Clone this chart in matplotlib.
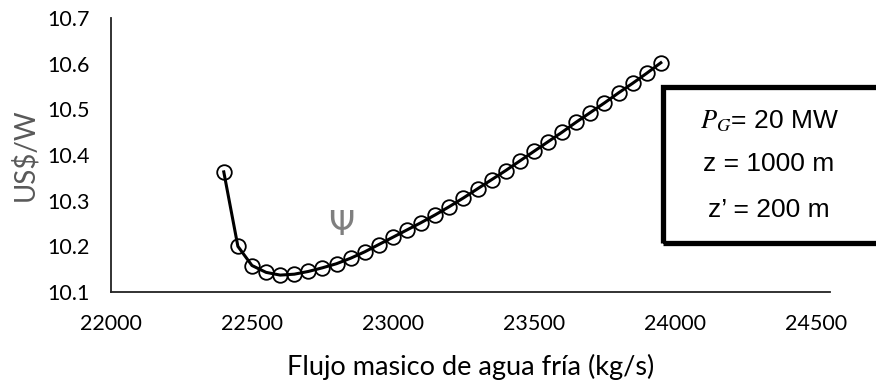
import numpy as np
from matplotlib import pyplot as plt
from matplotlib.patches import Rectangle

# flujo masico (kg/s) vs costo (US$/W)
flujo = [22400, 22450, 22500, 22550, 22600, 22650, 22700, 22750, 22800, 22850,
         22900, 22950, 23000, 23050, 23100, 23150, 23200, 23250, 23300, 23350,
         23400, 23450, 23500, 23550, 23600, 23650, 23700, 23750, 23800, 23850,
         23900, 23950]
costo = [10.363, 10.200, 10.158, 10.143, 10.137, 10.139, 10.145, 10.153, 10.162, 10.174,
         10.188, 10.204, 10.220, 10.236, 10.252, 10.269, 10.287, 10.306, 10.326, 10.346,
         10.366, 10.387, 10.408, 10.429, 10.450, 10.472, 10.493, 10.514, 10.536, 10.557,
         10.579, 10.602]
xticks = [22000, 22500, 23000, 23500, 24000, 24500]
yticks = [10.1, 10.2, 10.3, 10.4, 10.5, 10.6, 10.7]
box_lines = ["$P_G$= 20 MW", "z = 1000 m", "z’ = 200 m"]

plt.rcParams['font.family'] = ['Lato', 'DejaVu Sans']
plt.rcParams['mathtext.fontset'] = 'stix'

fig = plt.figure(figsize=(8.76, 3.81), dpi=100)
ax = fig.add_axes([0.1267, 0.2336, 0.8208, 0.7192])

ax.plot(flujo, costo, color='black', linewidth=2.2, marker='o', markersize=10.5,
        markerfacecolor='none', markeredgecolor='black', markeredgewidth=1.3, clip_on=False)

ax.set_xlim(22000, 24550)
ax.set_ylim(10.1, 10.7)
ax.set_xticks(xticks)
ax.set_yticks(yticks)
ax.set_yticklabels(["{:.1f}".format(v) for v in yticks])
ax.tick_params(length=0, labelsize=15.5, colors='black')
ax.tick_params(axis='y', pad=15)
ax.tick_params(axis='x', pad=16)

for s in ['top', 'right']:
    ax.spines[s].set_visible(False)
for s in ['left', 'bottom']:
    ax.spines[s].set_linewidth(1.3)
    ax.spines[s].set_color('#222222')

ax.set_xlabel("Flujo masico de agua fría (kg/s)", fontsize=19.5, labelpad=14)
ax.set_ylabel("US$/W", fontsize=20, color='#595959', labelpad=7)

ax.text(22815, 10.245, "Ψ", fontsize=24, color='#7f7f7f', ha='center', va='center',
        family='DejaVu Sans')

# cuadro de parametros
W, H = 876, 381
rect = Rectangle((663 / W, 1 - 243 / H), 260 / W, 156 / H, transform=fig.transFigure,
                 fill=False, edgecolor='black', linewidth=3.8, clip_on=False)
fig.patches.append(rect)
ys = [121, 164, 210]
for t, yy in zip(box_lines, ys):
    fig.text(769 / W, 1 - yy / H, t, fontsize=19, ha='center', va='center',
             family='Liberation Sans')

fig.savefig("out.png", dpi=100)
